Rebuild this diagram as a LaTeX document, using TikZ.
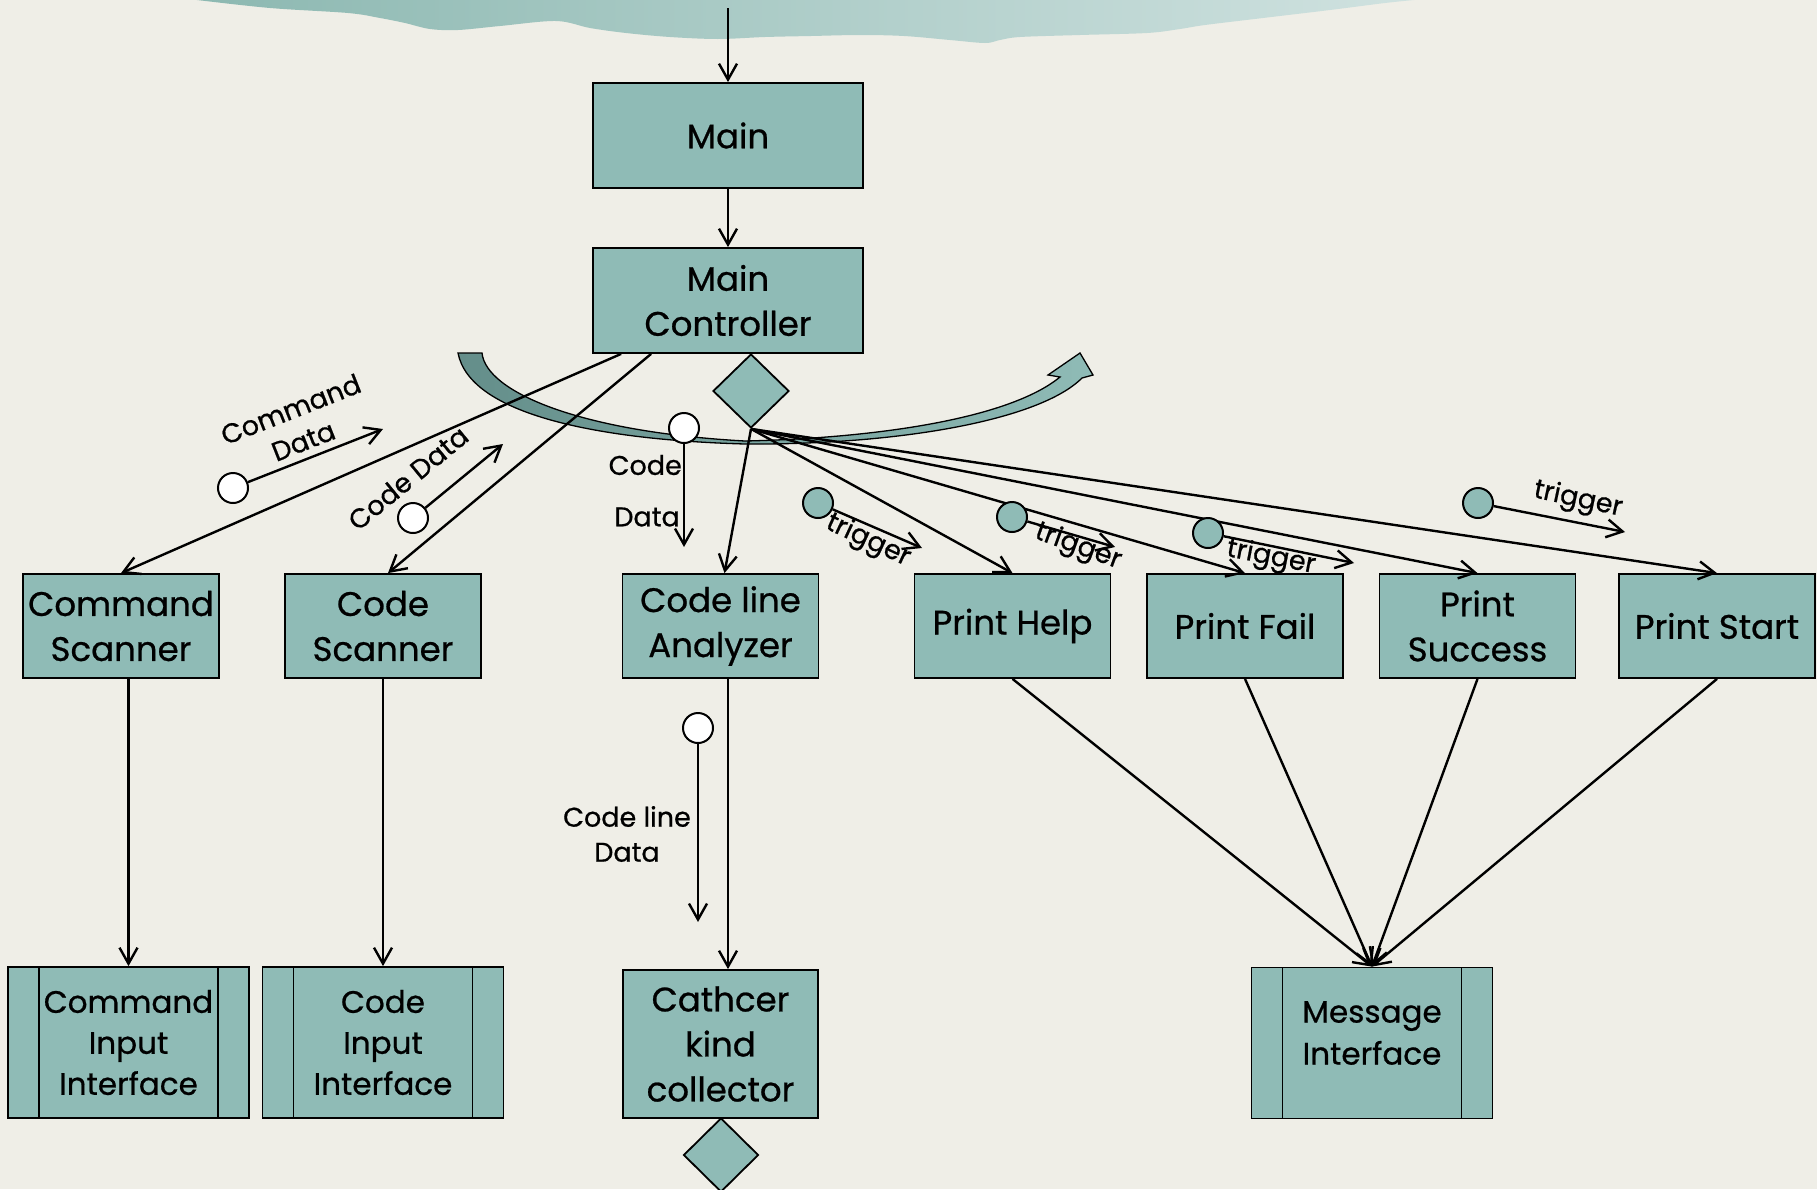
\documentclass[tikz,border=0pt]{standalone}
\usepackage{fontspec}
\setmainfont{Poppins}[FakeBold=0.7]
\usetikzlibrary{arrows.meta,shapes.geometric,calc}

\definecolor{paper}{RGB}{239,238,231}
\definecolor{boxteal}{RGB}{143,187,182}
\definecolor{bandL}{RGB}{100,142,138}
\definecolor{cloudL}{RGB}{140,184,177}
\definecolor{cloudR}{RGB}{208,226,224}

\begin{document}
\begin{tikzpicture}[x=1pt,y=-1pt,
  box/.style={draw=black, line width=1.8pt, fill=boxteal, inner sep=0pt,
    align=center, font=\fontsize{34}{45}\selectfont},
  rowbox/.style={box, minimum width=196pt, minimum height=104pt},
  iface/.style={box, minimum width=241pt, minimum height=151pt,
    font=\fontsize{31}{41}\selectfont,
    path picture={
      \draw[line width=1.8pt]
        ([xshift=31pt]path picture bounding box.south west) --
        ([xshift=31pt]path picture bounding box.north west);
      \draw[line width=1.8pt]
        ([xshift=-31pt]path picture bounding box.south east) --
        ([xshift=-31pt]path picture bounding box.north east);}},
  dia/.style={diamond, draw=black, line width=1.8pt, fill=boxteal, inner sep=0pt},
  conn/.style={line width=2.4pt, -{Straight Barb[length=16pt,width=18pt]}},
  datadot/.style={circle, draw=black, line width=2pt, fill=white,
    minimum size=30pt, inner sep=0pt},
  trigdot/.style={datadot, fill=boxteal},
  lab/.style={inner sep=0pt, align=center, font=\fontsize{27}{34}\selectfont}]

\useasboundingbox (0,0) rectangle (1817,1189);
\clip (0,0) rectangle (1817,1189);
\fill[paper] (0,0) rectangle (1817,1189);

% torn band across the top edge
\shade[left color=cloudL, right color=cloudR]
  (190,-5) -- plot[smooth, tension=0.55] coordinates {
    (197,0) (270,8) (348,13) (380,18) (405,23) (430,29) (458,30) (500,26)
    (556,21) (590,28) (626,33) (670,37) (718,39) (765,37) (811,36) (860,35)
    (904,36) (950,40) (985,43) (1000,40) (1020,37) (1080,35) (1147,33)
    (1180,29) (1205,25) (1263,18) (1330,10) (1385,3) (1414,0)}
  -- (1420,-5) -- cycle;

% curved block arrow
\shadedraw[draw=black, line width=1.3pt, left color=bandL, right color=boxteal]
  (458,353) -- (482,353)
  .. controls (486,392) and (580,432) .. (745,441)
  .. controls (880,438) and (1010,418) .. (1060,377)
  -- (1048,375) -- (1080,353) -- (1093,375) -- (1082,378)
  .. controls (1040,420) and (900,445) .. (745,444)
  .. controls (600,440) and (470,415) .. (458,353) -- cycle;

% modules
\node[box, minimum width=270pt, minimum height=105pt] (main) at (728,135.5) {Main};
\node[box, minimum width=270pt, minimum height=105pt] (mc) at (728,300.5) {Main\\Controller};
\node[dia, minimum width=76pt, minimum height=74pt] (d1) at (751,391) {};

\node[rowbox] (cs)  at (121,626)    {Command\\Scanner};
\node[rowbox] (csc) at (383,626)    {Code\\Scanner};
\node[rowbox] (cla) at (720.5,626)  {Code line\\Analyzer};
\node[rowbox] (ph)  at (1012.5,626) {Print Help};
\node[rowbox] (pf)  at (1245,626)   {Print Fail};
\node[rowbox] (psu) at (1477.5,626) {Print\\Success};
\node[rowbox] (pst) at (1717,626)   {Print Start};

\node[iface] (cii)  at (128.5,1042.5) {Command\\Input\\Interface};
\node[iface] (coii) at (383,1042.5)   {Code\\Input\\Interface};
\node[box, minimum width=195pt, minimum height=148pt] (ckc) at (720.5,1044) {Cathcer\\kind\\collector};
\node[iface] (mi) at (1372,1043) {};
\node[inner sep=0pt, align=center, font=\fontsize{31}{42}\selectfont]
  (mitext) at ($(mi.center)+(0,-10)$) {Message\\Interface};
\node[dia, minimum width=75pt, minimum height=74pt] (d2) at (721,1155) {};

% calls
\coordinate (src) at (728,8);
\draw[conn] (src) -- (main.north);
\draw[conn] (main.south) -- (mc.north);
\draw[conn] ($(mc.south west)+(29,0)$) -- (cs.north);
\draw[conn] ($(mc.south west)+(59,0)$) -- ($(csc.north)+(5,0)$);
\draw[conn] (d1.south) -- ($(cla.north)+(4,0)$);
\draw[conn] (d1.south) -- (ph.north);
\draw[conn] (d1.south) -- (pf.north);
\draw[conn] (d1.south) -- (psu.north);
\draw[conn] (d1.south) -- (pst.north);

\draw[conn] (cs.south -| cii.north) -- (cii.north);
\draw[conn] (csc.south) -- (coii.north);
\draw[conn] ($(cla.south)+(7.5,0)$) -- ($(ckc.north)+(7.5,0)$);

\draw[conn] (ph.south) -- (mi.north);
\draw[conn] (pf.south) -- (mi.north);
\draw[conn] (psu.south) -- (mi.north);
\draw[conn] (pst.south) -- (mi.north);

% data couples
\node[datadot] (c1) at (233,488) {};
\coordinate (e1) at (383,429);
\draw[conn] (c1) -- (e1);
\node[lab, rotate=21.5] (l1) at (297,425) {Command\\Data};

\node[datadot] (c2) at (413,518) {};
\coordinate (e2) at (503,444);
\draw[conn] (c2) -- (e2);
\node[lab, rotate=39.4] (l2) at (408,478) {Code Data};

\node[datadot] (c3) at (684,428) {};
\coordinate (e3) at (684,547);
\draw[conn] (c3) -- (e3);
\node[lab, anchor=east] (l3a) at (682,465) {Code};
\node[lab, anchor=east] (l3b) at (680,517) {Data};

\node[datadot] (c4) at (698,728) {};
\coordinate (e4) at (698,922);
\draw[conn] (c4) -- (e4);
\node[lab, font=\fontsize{27}{35}\selectfont] (l4) at (627,834) {Code line\\Data};

% control couples
\node[trigdot] (t1) at (818,503) {};
\coordinate (f1) at (922,548);
\draw[conn] (t1) -- (f1);
\node[lab, rotate=-25] (lt1) at (868,541) {trigger};

\node[trigdot] (t2) at (1012,517) {};
\coordinate (f2) at (1115,547);
\draw[conn] (t2) -- (f2);
\node[lab, rotate=-20] (lt2) at (1078,547) {trigger};

\node[trigdot] (t3) at (1208,533) {};
\coordinate (f3) at (1354,563);
\draw[conn] (t3) -- (f3);
\node[lab, rotate=-11] (lt3) at (1271,558) {trigger};

\node[trigdot] (t4) at (1478,503) {};
\coordinate (f4) at (1625,532);
\draw[conn] (t4) -- (f4);
\node[lab, rotate=-12] (lt4) at (1578,500) {trigger};

\end{tikzpicture}
\end{document}
